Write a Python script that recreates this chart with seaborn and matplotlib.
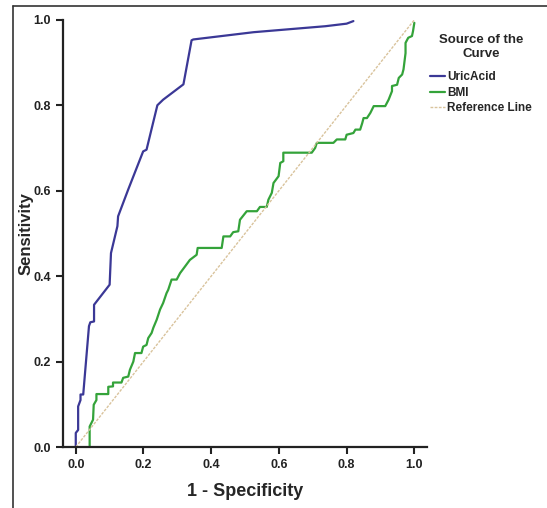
import pandas as pd
import matplotlib.pyplot as plt
import seaborn as sns
from matplotlib.lines import Line2D

# =========================
# 1. DATA
# =========================
uric_fpr = [0.0, 0.0, 0.007, 0.007, 0.014, 0.014, 0.022, 0.039, 0.043, 0.054, 0.054,
            0.100, 0.104, 0.123, 0.125, 0.155, 0.199, 0.209, 0.241, 0.258, 0.318,
            0.342, 0.347, 0.525, 0.737, 0.800, 0.820]
uric_tpr = [0.0, 0.033, 0.040, 0.095, 0.110, 0.123, 0.123, 0.283, 0.292, 0.294, 0.333,
            0.380, 0.454, 0.517, 0.540, 0.603, 0.692, 0.696, 0.800, 0.813, 0.849,
            0.952, 0.954, 0.971, 0.985, 0.991, 0.997]

bmi_fpr = [0.041, 0.041, 0.051, 0.053, 0.061, 0.061, 0.096, 0.096, 0.110, 0.110, 0.135,
           0.140, 0.155, 0.160, 0.170, 0.175, 0.194, 0.199, 0.209, 0.214, 0.224, 0.229,
           0.239, 0.249, 0.258, 0.268, 0.273, 0.283, 0.298, 0.308, 0.323, 0.337, 0.357,
           0.360, 0.431, 0.436, 0.456, 0.465, 0.480, 0.485, 0.505, 0.535, 0.544, 0.564,
           0.569, 0.579, 0.584, 0.599, 0.604, 0.613, 0.613, 0.697, 0.707, 0.712, 0.761,
           0.771, 0.796, 0.800, 0.820, 0.826, 0.840, 0.846, 0.850, 0.860, 0.870, 0.880,
           0.914, 0.924, 0.934, 0.934, 0.949, 0.954, 0.964, 0.968, 0.974, 0.974, 0.982,
           0.993, 0.996, 1.000]
bmi_tpr = [0.0, 0.048, 0.064, 0.099, 0.110, 0.124, 0.124, 0.141, 0.142, 0.151, 0.151,
           0.162, 0.165, 0.181, 0.200, 0.220, 0.220, 0.235, 0.239, 0.255, 0.267, 0.279,
           0.298, 0.322, 0.337, 0.360, 0.368, 0.392, 0.392, 0.407, 0.423, 0.438, 0.450,
           0.466, 0.466, 0.493, 0.493, 0.503, 0.505, 0.532, 0.552, 0.552, 0.562, 0.562,
           0.579, 0.595, 0.618, 0.634, 0.665, 0.669, 0.689, 0.689, 0.700, 0.712, 0.712,
           0.720, 0.720, 0.731, 0.735, 0.743, 0.743, 0.758, 0.770, 0.770, 0.782, 0.798,
           0.798, 0.813, 0.833, 0.845, 0.848, 0.864, 0.872, 0.884, 0.922, 0.946, 0.958,
           0.962, 0.973, 0.993]

ref_x = [0.0, 1.0]
ref_y = [0.0, 1.0]

ticks = [0.0, 0.2, 0.4, 0.6, 0.8, 1.0]
tick_labels = ["0.0", "0.2", "0.4", "0.6", "0.8", "1.0"]

# =========================
# 2. STYLE
# =========================
sns.set_style("ticks")
plt.rcParams['font.family'] = ['Liberation Sans Narrow', 'Liberation Sans', 'DejaVu Sans']

uric_color = "#3b3896"
bmi_color = "#34a33a"
ref_color = "#d9c39c"

fig = plt.figure(figsize=(5.47, 5.08), dpi=100)
ax = fig.add_axes([0.115, 0.12, 0.666, 0.841])

# =========================
# 3. PLOT
# =========================
sns.lineplot(x=uric_fpr, y=uric_tpr, sort=False, estimator=None, ax=ax,
             color=uric_color, linewidth=1.6, label="UricAcid")
sns.lineplot(x=bmi_fpr, y=bmi_tpr, sort=False, estimator=None, ax=ax,
             color=bmi_color, linewidth=1.6, label="BMI")
sns.lineplot(x=ref_x, y=ref_y, sort=False, estimator=None, ax=ax,
             color=ref_color, linewidth=1.0, linestyle=(0, (2, 1)),
             label="Reference Line")

ax.set_xlim(-0.038, 1.038)
ax.set_ylim(0, 1.0)
ax.set_xticks(ticks)
ax.set_xticklabels(tick_labels)
ax.set_yticks(ticks)
ax.set_yticklabels(tick_labels)
ax.tick_params(axis="both", length=5, width=1.5, labelsize=9, colors="#222222")
for lab in ax.get_xticklabels() + ax.get_yticklabels():
    lab.set_fontweight("bold")
for side in ["left", "bottom"]:
    ax.spines[side].set_linewidth(1.6)
    ax.spines[side].set_color("#222222")
sns.despine(ax=ax)

ax.set_xlabel("1 - Specificity", fontsize=13, fontweight="bold", labelpad=9)
ax.set_ylabel("Sensitivity", fontsize=12, fontweight="bold", labelpad=0)

leg = ax.legend(title="Source of the\nCurve", loc="upper left",
                bbox_to_anchor=(0.985, 0.985), frameon=False, fontsize=8.5,
                handlelength=1.3, handletextpad=0.15, labelspacing=0.28,
                borderaxespad=0.3)
leg.get_title().set_fontweight("bold")
leg.get_title().set_fontsize(9.5)
leg.get_title().set_multialignment("center")
leg._legend_box.sep = 8
for t in leg.get_texts():
    t.set_fontweight("bold")

# frame lines of the original scan
fig.add_artist(Line2D([13 / 547, 1.0], [1 - 6 / 508, 1 - 6 / 508],
                      transform=fig.transFigure, color="#333333", linewidth=1.2))
fig.add_artist(Line2D([13 / 547, 13 / 547], [0.0, 1 - 6 / 508],
                      transform=fig.transFigure, color="#333333", linewidth=1.2))

fig.savefig("out.png", dpi=100)
